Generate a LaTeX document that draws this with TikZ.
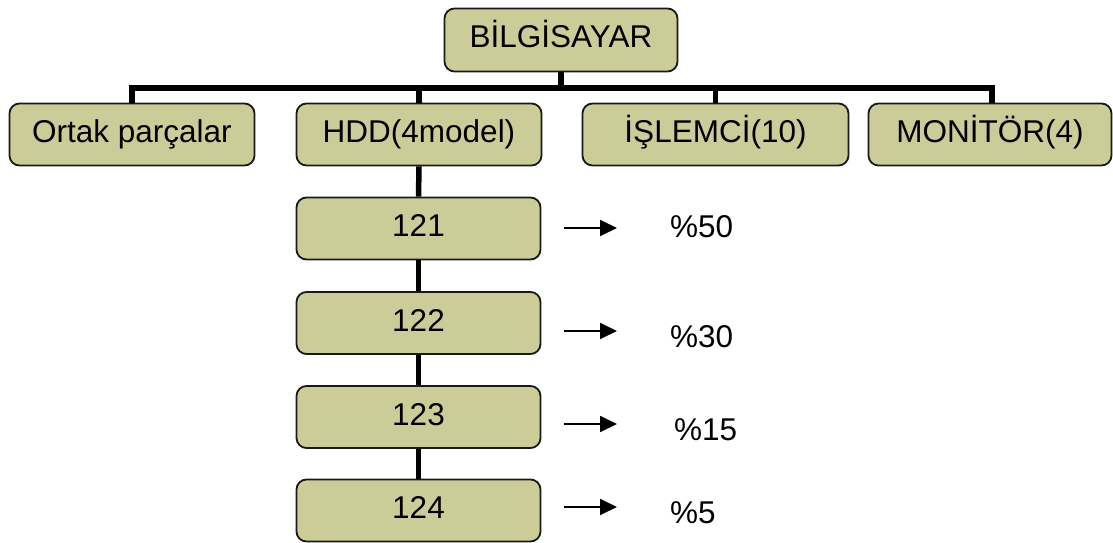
\documentclass[tikz,border=0pt]{standalone}
\usepackage{fontspec}
\setmainfont{Liberation Sans}
\usetikzlibrary{arrows.meta}
\definecolor{khaki}{RGB}{204,204,153}
\begin{document}
\begin{tikzpicture}[x=1pt,y=-1pt,
  box/.style={draw=black!90, fill=khaki, rounded corners=10pt, line width=1.8pt,
    inner sep=0pt, text height=23pt, text depth=7pt, minimum height=62pt,
    font=\fontsize{31.5}{36}\selectfont},
  link/.style={line width=5.5pt},
  arr/.style={line width=1.8pt, -{Triangle[length=17pt,width=16pt]}},
  pct/.style={inner sep=0pt, font=\fontsize{31.5}{36}\selectfont}]
\useasboundingbox (0,0) rectangle (1113,543);

% root and first level
\node[box, minimum width=233pt, minimum height=63pt] (root) at (561,40) {BİLGİSAYAR};
\node[box, minimum width=245pt] (ortak) at (132,134.5) {Ortak parçalar};
\node[box, minimum width=245pt] (hdd)   at (419,134.5) {HDD(4model)};
\node[box, minimum width=266pt] (cpu)   at (715.5,134.5) {İŞLEMCİ(10)};
\node[box, minimum width=243pt] (mon)   at (990,134.5) {MONİTÖR(4)};

% HDD models
\node[box, minimum width=244pt] (m1) at (418.5,228.5) {121};
\node[box, minimum width=244pt] (m2) at (418.5,323) {122};
\node[box, minimum width=244pt] (m3) at (418.5,417) {123};
\node[box, minimum width=244pt] (m4) at (418.5,510.5) {124};

% tree connectors
\coordinate (bar) at (561,88);
\draw[link] (root.south) -- (root.south |- bar);
\draw[link] (root.south |- bar) -| (ortak.north);
\draw[link] (root.south |- bar) -| (hdd.north);
\draw[link] (root.south |- bar) -| (cpu.north);
\draw[link] (root.south |- bar) -| (992,103) coordinate (monjoin);
\draw[link] (hdd.south) -- (m1.north);
\draw[link] (m1.south) -- (m2.north);
\draw[link] (m2.south) -- (m3.north);
\draw[link] (m3.south) -- (m4.north);

% shares
\coordinate (a1s) at (564,228); \coordinate (a1e) at (617,228);
\coordinate (a2s) at (564,331); \coordinate (a2e) at (617,331);
\coordinate (a3s) at (564,424); \coordinate (a3e) at (617,424);
\coordinate (a4s) at (564,507); \coordinate (a4e) at (617,507);
\draw[arr] (a1s) -- (a1e);
\draw[arr] (a2s) -- (a2e);
\draw[arr] (a3s) -- (a3e);
\draw[arr] (a4s) -- (a4e);

\node[pct, anchor=base west] (p1) at (670,237) {\%50};
\node[pct, anchor=base west] (p2) at (670,347) {\%30};
\node[pct, anchor=base west] (p3) at (674,440) {\%15};
\node[pct, anchor=base west] (p4) at (670,523) {\%5};
\end{tikzpicture}
\end{document}
